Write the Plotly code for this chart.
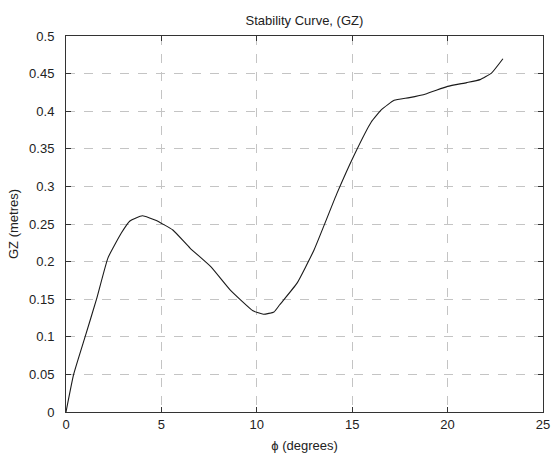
import plotly.graph_objects as go

phi_deg = [0, 0.4, 1.0, 1.6, 2.2, 2.9, 3.35, 4.0, 4.7, 5.6, 6.5, 7.6, 8.6, 9.8, 10.35,
           10.9, 11.2, 12.1, 13.0, 14.2, 15.1, 16.0, 16.55, 17.2, 18.0, 18.9, 20.0,
           21.0, 21.7, 22.3, 22.9]
gz_m = [0, 0.05, 0.1, 0.15, 0.205, 0.238, 0.254, 0.261, 0.255, 0.242, 0.218, 0.193,
        0.1625, 0.1346, 0.130, 0.133, 0.1426, 0.171, 0.2155, 0.2907, 0.3415, 0.3857,
        0.4025, 0.4145, 0.418, 0.4233, 0.433, 0.438, 0.442, 0.4507, 0.4698]

x_ticks = [0, 5, 10, 15, 20, 25]
y_ticks = [0, 0.05, 0.1, 0.15, 0.2, 0.25, 0.3, 0.35, 0.4, 0.45, 0.5]
y_tick_text = ["0", "0.05", "0.1", "0.15", "0.2", "0.25", "0.3", "0.35", "0.4", "0.45", "0.5"]

fig = go.Figure()
fig.add_trace(go.Scatter(x=phi_deg, y=gz_m, mode="lines",
                         line=dict(color="#1a1a1a", width=1.1, shape="spline", smoothing=0.4),
                         showlegend=False, hoverinfo="skip"))

font = "Liberation Sans, Arial, Helvetica, sans-serif"
axis_common = dict(showline=True, linecolor="#333333", linewidth=1, mirror="ticks",
                   ticks="inside", ticklen=5, tickcolor="#333333",
                   showgrid=True, gridcolor="#c4c4c4", griddash="dash", gridwidth=1,
                   zeroline=False, automargin=False,
                   tickfont=dict(family=font, size=13, color="#222222"))

fig.update_xaxes(range=[0, 25], tickvals=x_ticks, ticktext=[str(v) for v in x_ticks],
                 title=dict(text="ϕ (degrees)", font=dict(family=font, size=13, color="#222222"),
                            standoff=10),
                 **axis_common)
fig.update_yaxes(range=[0, 0.5], tickvals=y_ticks, ticktext=y_tick_text,
                 ticklabelstandoff=8,
                 title=dict(text="GZ (metres)", font=dict(family=font, size=13, color="#222222"),
                            standoff=7),
                 **axis_common)

fig.update_layout(
    width=552, height=454,
    margin=dict(l=66, r=9, t=36, b=42),
    paper_bgcolor="white", plot_bgcolor="white",
    title=dict(text="Stability Curve, (GZ)", x=0.5515, xanchor="center",
               y=0.955, yanchor="middle",
               font=dict(family=font, size=13, color="#222222")),
)

fig.write_html("out.html", config={"displayModeBar": False},
               post_script="document.body.style.margin='0';")
